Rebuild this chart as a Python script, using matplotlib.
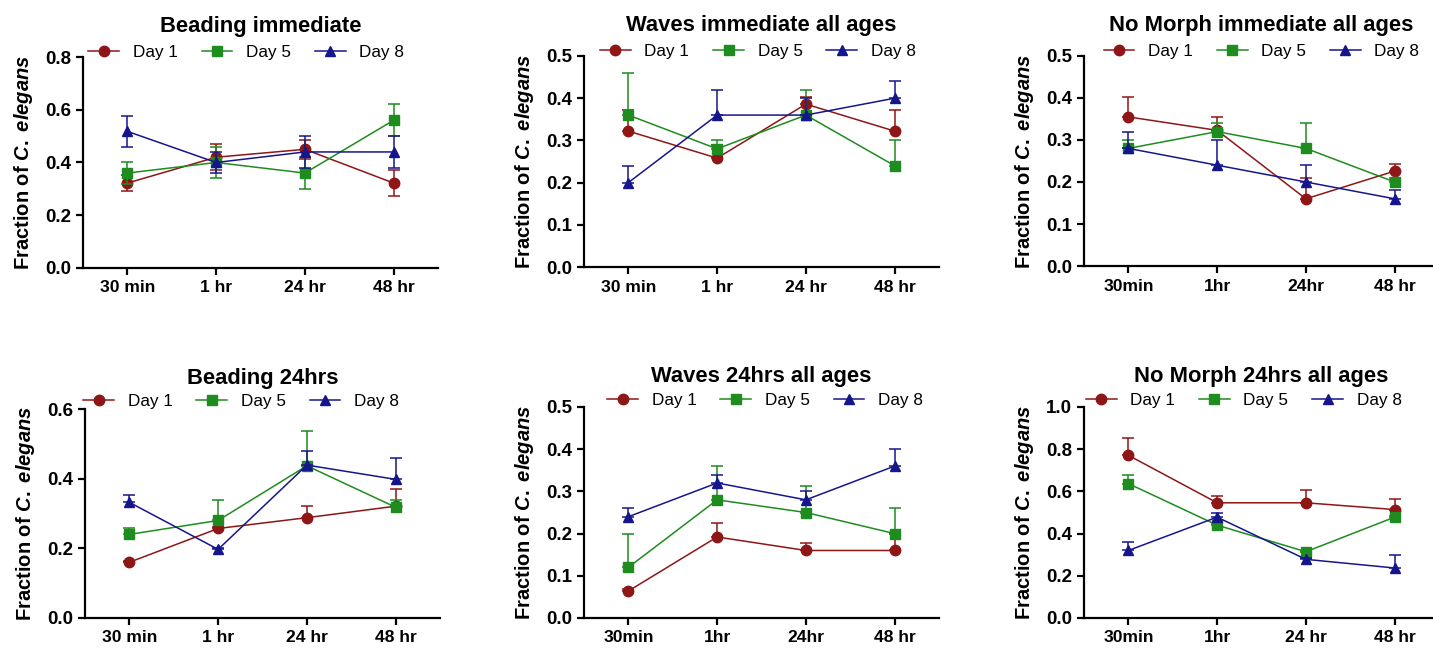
import numpy as np
import matplotlib.pyplot as plt
from matplotlib.ticker import FormatStrFormatter, MultipleLocator

plt.rcParams['font.family'] = ['Liberation Sans', 'DejaVu Sans']
plt.rcParams['font.weight'] = 'bold'
plt.rcParams['mathtext.fontset'] = 'custom'
plt.rcParams['mathtext.it'] = 'Liberation Sans:italic:bold'
plt.rcParams['mathtext.rm'] = 'Liberation Sans:bold'

# etiquetas de tiempo y series
tiempos_a = ["30 min", "1 hr", "24 hr", "48 hr"]
tiempos_b = ["30min", "1hr", "24hr", "48 hr"]
tiempos_c = ["30min", "1hr", "24 hr", "48 hr"]
dias = ["Day 1", "Day 5", "Day 8"]

# Beading immediate (error para ambos lados)
bead_inm = [[0.322, 0.42, 0.45, 0.322], [0.36, 0.40, 0.36, 0.56], [0.518, 0.40, 0.44, 0.44]]
bead_inm_err = [[0.03, 0.05, 0.035, 0.048], [0.04, 0.06, 0.06, 0.06], [0.06, 0.04, 0.06, 0.06]]

# Waves immediate all ages
waves_inm = [[0.322, 0.258, 0.386, 0.322], [0.36, 0.28, 0.36, 0.24], [0.20, 0.36, 0.36, 0.40]]
waves_inm_err = [[0.049, 0.03, 0.016, 0.05], [0.10, 0.02, 0.06, 0.06], [0.04, 0.06, 0.04, 0.04]]

# No Morph immediate all ages
nomorph_inm = [[0.355, 0.323, 0.16, 0.226], [0.28, 0.32, 0.28, 0.20], [0.28, 0.24, 0.20, 0.16]]
nomorph_inm_err = [[0.048, 0.032, 0.05, 0.016], [0.02, 0.02, 0.06, 0.01], [0.04, 0.06, 0.04, 0.02]]

# Beading 24hrs
bead_24 = [[0.16, 0.257, 0.288, 0.321], [0.24, 0.28, 0.437, 0.318], [0.332, 0.197, 0.439, 0.398]]
bead_24_err = [[0.005, 0.005, 0.034, 0.05], [0.018, 0.06, 0.10, 0.02], [0.021, 0.005, 0.041, 0.062]]

# Waves 24hrs all ages
waves_24 = [[0.064, 0.192, 0.16, 0.16], [0.12, 0.28, 0.25, 0.20], [0.24, 0.32, 0.28, 0.36]]
waves_24_err = [[0.005, 0.034, 0.017, 0.04], [0.08, 0.08, 0.062, 0.06], [0.02, 0.02, 0.02, 0.04]]

# No Morph 24hrs all ages
nomorph_24 = [[0.771, 0.546, 0.546, 0.514], [0.637, 0.44, 0.314, 0.478], [0.32, 0.478, 0.278, 0.237]]
nomorph_24_err = [[0.082, 0.033, 0.063, 0.049], [0.04, 0.005, 0.005, 0.005], [0.04, 0.02, 0.005, 0.061]]

colores = ['#8e1616', '#1e8c1e', '#16168c']
marcadores = ['o', 's', '^']

fig = plt.figure(figsize=(14.33, 6.48), dpi=100)

# (titulo, datos, errores, etiquetas, ymax, paso, ambos lados?, posicion, x leyenda, y leyenda)
paneles = [
    ("Beading immediate", bead_inm, bead_inm_err, tiempos_a, 0.8, 0.2, True, [83, 57, 268], 0.46, 1.02),
    ("Waves immediate all ages", waves_inm, waves_inm_err, tiempos_a, 0.5, 0.1, False, [584, 56, 267], 0.49, 1.02),
    ("No Morph immediate all ages", nomorph_inm, nomorph_inm_err, tiempos_b, 0.5, 0.1, False, [1084, 56, 266], 0.50, 1.02),
    ("Beading 24hrs", bead_24, bead_24_err, tiempos_a, 0.6, 0.2, False, [85, 409, 618], 0.44, 1.035),
    ("Waves 24hrs all ages", waves_24, waves_24_err, tiempos_b, 0.5, 0.1, False, [584, 407, 618], 0.51, 1.03),
    ("No Morph 24hrs all ages", nomorph_24, nomorph_24_err, tiempos_c, 1.0, 0.2, False, [1084, 407, 618], 0.45, 1.03),
]

W, H = 1433, 648
for titulo, datos, errores, etiquetas, ymax, paso, ambos, pos, xleg, yleg in paneles:
    izq, arriba, abajo = pos
    ax = fig.add_axes([izq / W, (H - abajo) / H, 355 / W, (abajo - arriba) / H])
    x = np.arange(len(etiquetas))
    for i in range(3):
        y = np.array(datos[i])
        e = np.array(errores[i])
        if ambos:
            yerr = e
        else:
            yerr = [np.zeros(len(e)), e]
        ax.errorbar(x, y, yerr=yerr, fmt='none', ecolor=colores[i], elinewidth=1.1,
                    capsize=4, capthick=1.1)
        ax.plot(x, y, color=colores[i], marker=marcadores[i], markersize=7.5, lw=1.1, label=dias[i])

    ax.set_xlim(-0.5, 3.5)
    ax.set_ylim(0, ymax)
    ax.yaxis.set_major_locator(MultipleLocator(paso))
    ax.yaxis.set_major_formatter(FormatStrFormatter('%.1f'))
    ax.set_xticks(x)
    ax.set_xticklabels(etiquetas)
    ax.spines['top'].set_visible(False)
    ax.spines['right'].set_visible(False)
    ax.spines['left'].set_linewidth(1.6)
    ax.spines['bottom'].set_linewidth(1.6)
    ax.tick_params(width=1.6, length=5)
    ax.tick_params(axis='y', labelsize=13.5)
    ax.tick_params(axis='x', labelsize=12.6, pad=4)
    ax.set_title(titulo, fontsize=15.8, fontweight='bold', pad=18)
    ax.set_ylabel(r'Fraction of $\mathit{C.}$ $\mathit{elegans}$', fontsize=14.5, fontweight='bold', labelpad=7)
    ax.legend(loc='center', bbox_to_anchor=(xleg, yleg), ncol=3, frameon=False,
              prop={'weight': 'normal', 'size': 12.3}, handlelength=1.8,
              handletextpad=0.8, columnspacing=1.4, borderaxespad=0)

plt.savefig("out.png", dpi=100)
